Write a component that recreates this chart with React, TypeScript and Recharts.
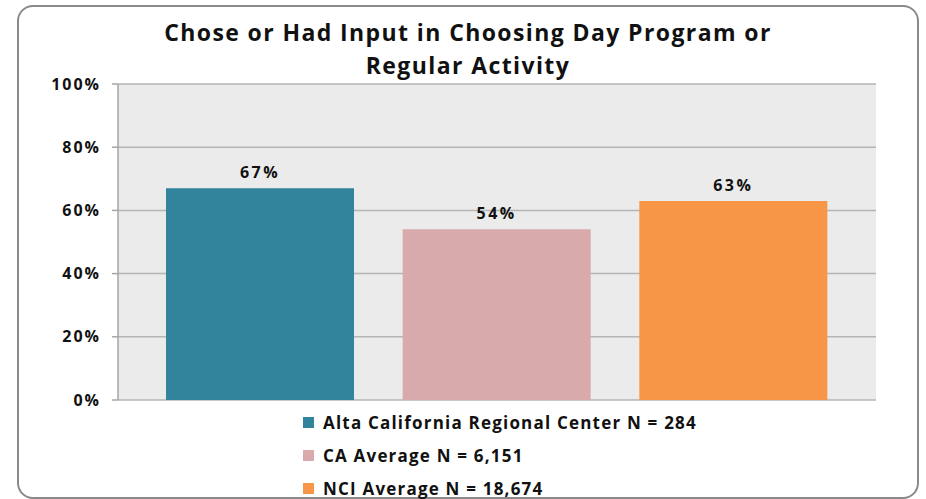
import { BarChart, Bar, Cell, CartesianGrid, XAxis, YAxis, LabelList } from "recharts";

const categories = [
  "Alta California Regional Center N = 284",
  "CA Average N = 6,151",
  "NCI Average N = 18,674",
];
const values = [67, 54, 63];
const colors = ["#31849b", "#d9aaab", "#f79646"];
const yTicks = [0, 20, 40, 60, 80, 100];
const titleLines = ["Chose or Had Input in Choosing Day Program or", "Regular Activity"];

const FONT = "'Open Sans', 'DejaVu Sans', sans-serif";

const rows = categories.map((name, i) => ({ name, value: values[i], color: colors[i] }));

function LegendBox() {
  return (
    <div
      style={{
        position: "absolute",
        left: 303,
        top: 406,
        fontFamily: FONT,
        fontWeight: 700,
        fontSize: 17,
        letterSpacing: 1.2,
        color: "#111",
      }}
    >
      {rows.map((r) => (
        <div key={r.name} style={{ display: "flex", alignItems: "center", height: 33, whiteSpace: "nowrap" }}>
          <span style={{ width: 11, height: 11, background: r.color, marginRight: 9, display: "inline-block" }} />
          <span>{r.name}</span>
        </div>
      ))}
    </div>
  );
}

export default function App() {
  return (
    <div style={{ position: "absolute", left: 0, top: 0, width: 926, height: 499, background: "#fff", overflow: "hidden" }}>
      <div
        style={{
          position: "absolute",
          left: 17,
          top: 5,
          width: 898,
          height: 490,
          border: "2px solid #8a8a8a",
          borderRadius: 16,
        }}
      />
      <div
        style={{
          position: "absolute",
          left: 17,
          top: 16,
          width: 902,
          textAlign: "center",
          fontFamily: FONT,
          fontWeight: 700,
          fontSize: 23,
          letterSpacing: 1.4,
          lineHeight: "33px",
          color: "#111",
        }}
      >
        {titleLines.map((t) => (
          <div key={t}>{t}</div>
        ))}
      </div>
      <div style={{ position: "absolute", left: 0, top: 0 }}>
        <BarChart
          width={926}
          height={499}
          data={rows}
          margin={{ top: 84, right: 50, left: 58, bottom: 99 }}
          barSize={188}
        >
          <CartesianGrid fill="#ebebeb" stroke="#b5b5b5" strokeWidth={1.5} vertical={false} />
          <XAxis dataKey="name" hide padding={{ left: 24, right: 24 }} />
          <YAxis
            width={60}
            domain={[0, 100]}
            ticks={yTicks}
            interval={0}
            tickFormatter={(v) => `${v}%`}
            tick={{ fill: "#111", fontSize: 16, fontWeight: 700, fontFamily: FONT, letterSpacing: 2 }}
            axisLine={{ stroke: "#a6a6a6", strokeWidth: 1.5 }}
            tickLine={{ stroke: "#a6a6a6", strokeWidth: 1.5 }}
            tickSize={6}
            tickMargin={11}
          />
          <Bar dataKey="value" isAnimationActive={false}>
            {rows.map((r) => (
              <Cell key={r.name} fill={r.color} />
            ))}
            <LabelList
              dataKey="value"
              position="top"
              offset={10}
              formatter={(v: number) => `${v}%`}
              style={{ fill: "#111", fontSize: 16, fontWeight: 700, fontFamily: FONT, letterSpacing: 2.5 }}
            />
          </Bar>
        </BarChart>
      </div>
      <LegendBox />
    </div>
  );
}
